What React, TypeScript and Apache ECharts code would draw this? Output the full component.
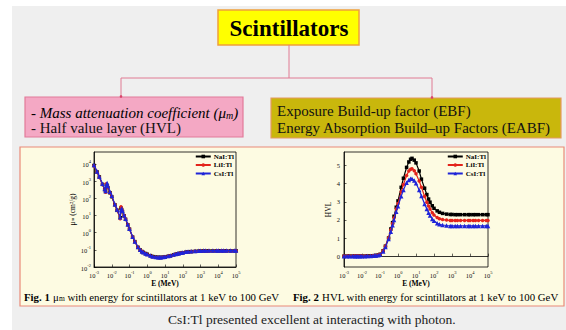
import React, { useEffect, useRef } from 'react';
import * as echarts from 'echarts';

const SERIF = 'Liberation Serif, Times New Roman, serif';

const SERIES_NAMES = ['NaI:Tl', 'LiI:Tl', 'CsI:Tl'];
const SERIES_COLORS = ['#000000', '#e3241b', '#1f24d8'];
const SERIES_SYMBOLS = ['rect', 'circle', 'triangle'];

// Fig. 1 : mass attenuation coefficient (cm2/g) vs photon energy (MeV)
const MU_ENERGY = [0.001, 0.0015, 0.002, 0.003, 0.004, 0.0045, 0.005, 0.0055, 0.006, 0.008, 0.01, 0.015, 0.02, 0.03, 0.0332, 0.036, 0.04, 0.05, 0.06, 0.08, 0.1, 0.15, 0.2, 0.3, 0.4, 0.5, 0.6, 0.8, 1, 1.5, 2, 3, 4, 5, 6, 8, 10, 15, 20, 30, 40, 50, 60, 80, 100, 150, 200, 300, 500, 800, 1000, 1500, 2000, 3000, 5000, 8000, 10000, 15000, 20000, 30000, 50000, 80000, 100000];
const MU_NAI = [8200, 3400, 1750, 650, 330, 250, 620, 500, 420, 210, 125, 42, 20, 7.5, 27, 22, 17, 9.5, 6, 2.9, 1.6, 0.55, 0.3, 0.14, 0.098, 0.08, 0.071, 0.061, 0.055, 0.046, 0.041, 0.038, 0.0365, 0.036, 0.0362, 0.0372, 0.0385, 0.042, 0.045, 0.051, 0.055, 0.058, 0.061, 0.065, 0.068, 0.073, 0.076, 0.079, 0.082, 0.084, 0.085, 0.086, 0.086, 0.087, 0.087, 0.088, 0.088, 0.088, 0.088, 0.088, 0.088, 0.088, 0.088];
const MU_LII = [7900, 3300, 1700, 640, 320, 230, 700, 560, 450, 215, 128, 43, 21, 6.5, 32, 25, 18, 10, 6.3, 3.0, 1.65, 0.56, 0.3, 0.14, 0.097, 0.079, 0.07, 0.06, 0.054, 0.045, 0.04, 0.037, 0.036, 0.0357, 0.036, 0.037, 0.0383, 0.0418, 0.0448, 0.0505, 0.0545, 0.0575, 0.0605, 0.0645, 0.0675, 0.0725, 0.0755, 0.0785, 0.0815, 0.0835, 0.0845, 0.0855, 0.0858, 0.0862, 0.0866, 0.0868, 0.087, 0.087, 0.087, 0.087, 0.087, 0.087, 0.087];
const MU_CSI = [8600, 3600, 1850, 700, 350, 270, 560, 780, 520, 240, 140, 45, 22, 8, 20, 26, 19, 10.5, 6.5, 3.1, 1.7, 0.58, 0.31, 0.145, 0.1, 0.081, 0.072, 0.062, 0.055, 0.046, 0.0415, 0.0385, 0.0372, 0.0368, 0.037, 0.038, 0.0395, 0.0432, 0.0465, 0.0528, 0.057, 0.0602, 0.0632, 0.0675, 0.0708, 0.0762, 0.0795, 0.0828, 0.086, 0.0882, 0.0892, 0.0902, 0.0906, 0.091, 0.0914, 0.0916, 0.0918, 0.0918, 0.0918, 0.0918, 0.0918, 0.0918, 0.0918];

// Fig. 2 : half value layer vs photon energy (MeV)
const HVL_ENERGY = [0.001, 0.0015, 0.002, 0.003, 0.004, 0.005, 0.006, 0.008, 0.01, 0.015, 0.02, 0.03, 0.04, 0.05, 0.06, 0.08, 0.1, 0.15, 0.2, 0.3, 0.4, 0.5, 0.6, 0.8, 1, 1.5, 2, 3, 4, 5, 6, 8, 10, 15, 20, 30, 40, 50, 60, 80, 100, 150, 200, 300, 500, 800, 1000, 1500, 2000, 3000, 5000, 8000, 10000, 15000, 20000, 30000, 50000, 80000, 100000];
const HVL_NAI = [0, 0, 0, 0, 0, 0, 0, 0, 0, 0, 0.01, 0.01, 0.02, 0.03, 0.04, 0.06, 0.1, 0.3, 0.55, 1.0, 1.5, 1.85, 2.2, 2.7, 3.05, 3.8, 4.3, 4.9, 5.2, 5.35, 5.4, 5.3, 5.15, 4.7, 4.25, 3.75, 3.4, 3.15, 2.98, 2.78, 2.64, 2.5, 2.42, 2.36, 2.32, 2.3, 2.3, 2.29, 2.29, 2.29, 2.29, 2.29, 2.29, 2.29, 2.29, 2.29, 2.29, 2.29, 2.29];
const HVL_LII = [0, 0, 0, 0, 0, 0, 0, 0, 0, 0, 0.01, 0.01, 0.02, 0.03, 0.04, 0.06, 0.1, 0.3, 0.55, 1.0, 1.45, 1.8, 2.1, 2.6, 2.9, 3.55, 3.95, 4.45, 4.7, 4.8, 4.82, 4.72, 4.55, 4.15, 3.8, 3.3, 2.98, 2.77, 2.6, 2.4, 2.27, 2.13, 2.06, 2.02, 1.99, 1.97, 1.97, 1.97, 1.97, 1.97, 1.97, 1.97, 1.97, 1.97, 1.97, 1.97, 1.97, 1.97, 1.97];
const HVL_CSI = [0, 0, 0, 0, 0, 0, 0, 0, 0, 0, 0.01, 0.01, 0.02, 0.03, 0.04, 0.05, 0.08, 0.25, 0.5, 0.95, 1.35, 1.7, 2.0, 2.45, 2.75, 3.3, 3.65, 4.05, 4.2, 4.27, 4.27, 4.18, 4.02, 3.65, 3.32, 2.88, 2.6, 2.4, 2.25, 2.05, 1.95, 1.82, 1.76, 1.72, 1.69, 1.67, 1.67, 1.67, 1.67, 1.67, 1.67, 1.67, 1.67, 1.67, 1.67, 1.67, 1.67, 1.67, 1.67];

const MU_SERIES = [MU_NAI, MU_LII, MU_CSI];
const HVL_SERIES = [HVL_NAI, HVL_LII, HVL_CSI];

const HVL_TICKS = [0, 1, 2, 3, 4, 5];

const powLabel = (v: number) => {
  const e = Math.log10(v);
  const r = Math.round(e);
  if (Math.abs(e - r) > 1e-6) return '';
  return `{b|10}{s|${r}}`;
};

const powRich = {
  b: { fontSize: 6.5, fontFamily: SERIF, color: '#111', lineHeight: 9, verticalAlign: 'bottom' },
  s: { fontSize: 4.5, fontFamily: SERIF, color: '#111', lineHeight: 5, verticalAlign: 'top' },
};

const makeSeries = (energy: number[], values: number[][], xAxisIndex: number, yAxisIndex: number) =>
  values.map((vals, i) => ({
    name: SERIES_NAMES[i],
    type: 'line',
    xAxisIndex,
    yAxisIndex,
    data: energy.map((e, k) => [e, vals[k]]),
    symbol: SERIES_SYMBOLS[i],
    symbolSize: i === 2 ? 4.5 : 3.5,
    showSymbol: true,
    lineStyle: { color: SERIES_COLORS[i], width: 1.2 },
    itemStyle: { color: SERIES_COLORS[i] },
    clip: true,
    z: 3 + i,
  }));

const xAxisBase = (gridIndex: number) => ({
  type: 'log',
  logBase: 10,
  gridIndex,
  min: 0.001,
  max: 100000,
  name: 'E (MeV)',
  nameLocation: 'middle',
  nameGap: 12,
  nameTextStyle: { fontFamily: SERIF, fontSize: 7.5, fontWeight: 'bold', color: '#000' },
  axisLine: { show: true, lineStyle: { color: '#000', width: 0.8 } },
  axisTick: { show: true, inside: true, length: 2.5, lineStyle: { color: '#000', width: 0.6 } },
  axisLabel: { formatter: powLabel, rich: powRich, margin: 3 },
  splitLine: { show: false },
});

const txt = (x: number, y: number, text: string, size: number, opts: any = {}) => ({
  type: 'text',
  z: 10,
  style: {
    x, y, text,
    textAlign: opts.align || 'left',
    textVerticalAlign: 'middle',
    fontSize: size,
    fontFamily: SERIF,
    fontWeight: opts.weight || 'normal',
    fill: opts.color || '#111',
  },
});

export default function App() {
  const ref = useRef<HTMLDivElement>(null);

  useEffect(() => {
    document.body.style.margin = '0';
    const chart = echarts.init(ref.current!, undefined, { renderer: 'svg' });

    const capSize = 10.8;

    const graphic: any[] = [
      { type: 'rect', z: -20, shape: { x: 12, y: 6, width: 554, height: 324 }, style: { fill: '#efefef' } },
      // title
      { type: 'rect', z: -10, shape: { x: 218, y: 10, width: 141, height: 35 }, style: { fill: '#ffff00', stroke: '#f0a03a', lineWidth: 1.5 } },
      txt(289, 28, 'Scintillators', 23, { align: 'center', weight: 'bold', color: '#000' }),
      // connectors
      { type: 'line', z: -10, shape: { x1: 289, y1: 45, x2: 289, y2: 78 }, style: { stroke: '#e07b93', lineWidth: 1 } },
      { type: 'line', z: -10, shape: { x1: 121, y1: 78, x2: 432, y2: 78 }, style: { stroke: '#e07b93', lineWidth: 1 } },
      { type: 'line', z: -10, shape: { x1: 121, y1: 78, x2: 121, y2: 97 }, style: { stroke: '#e07b93', lineWidth: 1 } },
      { type: 'line', z: -10, shape: { x1: 432, y1: 78, x2: 432, y2: 98 }, style: { stroke: '#e07b93', lineWidth: 1 } },
      { type: 'circle', z: -9, shape: { cx: 121, cy: 96.5, r: 1.3 }, style: { fill: '#d9436a' } },
      { type: 'circle', z: -9, shape: { cx: 432, cy: 97.5, r: 1.3 }, style: { fill: '#d9436a' } },
      // left box
      { type: 'rect', z: -10, shape: { x: 25, y: 97, width: 218, height: 40 }, style: { fill: '#f4a8c4', stroke: '#e27b99', lineWidth: 1.2 } },
      {
        type: 'text', z: 10,
        style: {
          x: 31, y: 111, textAlign: 'left', textVerticalAlign: 'middle',
          text: '{n|- }{i|Mass attenuation coefficient (μ}{is|m}{i|)}',
          rich: {
            n: { fontSize: 15, fontFamily: SERIF, color: '#111', lineHeight: 18, verticalAlign: 'bottom' },
            i: { fontSize: 15, fontFamily: SERIF, fontStyle: 'italic', color: '#111', lineHeight: 18, verticalAlign: 'bottom' },
            is: { fontSize: 10, fontFamily: SERIF, fontStyle: 'italic', color: '#111', lineHeight: 10, verticalAlign: 'bottom' },
          },
        },
      },
      txt(31, 128, '- Half value layer (HVL)', 15),
      // right box
      { type: 'rect', z: -10, shape: { x: 271, y: 98, width: 290, height: 40 }, style: { fill: '#c9b70c', stroke: '#e49a61', lineWidth: 1.2 } },
      txt(277, 111, 'Exposure Build-up factor (EBF)', 15),
      txt(277, 128, 'Energy Absorption Build–up Factors (EABF)', 15),
      // figure container
      { type: 'rect', z: -10, shape: { x: 20, y: 147, width: 544, height: 159 }, style: { fill: '#fdfbe2', stroke: '#e98a78', lineWidth: 1.2 } },
      {
        type: 'text', z: 10,
        style: {
          x: 24, y: 295, textAlign: 'left', textVerticalAlign: 'middle',
          text: '{b|Fig. 1} {n|μ}{s|m}{n| with energy for scintillators at 1 keV to 100 GeV}',
          rich: {
            b: { fontSize: capSize, fontFamily: SERIF, fontWeight: 'bold', color: '#111', lineHeight: 14, verticalAlign: 'bottom' },
            n: { fontSize: capSize, fontFamily: SERIF, color: '#111', lineHeight: 14, verticalAlign: 'bottom' },
            s: { fontSize: 7.5, fontFamily: SERIF, color: '#111', lineHeight: 8, verticalAlign: 'bottom' },
          },
        },
      },
      {
        type: 'text', z: 10,
        style: {
          x: 293, y: 295, textAlign: 'left', textVerticalAlign: 'middle',
          text: '{b|Fig. 2} {n|HVL with energy for scintillators at 1 keV to 100 GeV}',
          rich: {
            b: { fontSize: capSize, fontFamily: SERIF, fontWeight: 'bold', color: '#111', lineHeight: 14, verticalAlign: 'bottom' },
            n: { fontSize: capSize, fontFamily: SERIF, color: '#111', lineHeight: 14, verticalAlign: 'bottom' },
          },
        },
      },
      txt(168, 319, 'CsI:Tl presented excellent at interacting with photon.', 13.5, { color: '#222' }),
    ];

    const legendBase = {
      orient: 'vertical',
      top: 153,
      itemWidth: 15,
      itemHeight: 4.5,
      itemGap: 1.5,
      padding: 0,
      align: 'left',
      textStyle: { fontFamily: SERIF, fontSize: 7, fontWeight: 'bold', color: '#000', padding: [0, 0, 0, -2] },
      data: SERIES_NAMES,
    };

    chart.setOption({
      animation: false,
      backgroundColor: '#ffffff',
      textStyle: { fontFamily: SERIF },
      graphic,
      grid: [
        { left: 94, top: 152, width: 142, height: 115, show: true, borderColor: '#000', borderWidth: 0.8, backgroundColor: 'transparent', outerBoundsMode: 'none' },
        { left: 344, top: 152, width: 144, height: 115, show: true, borderColor: '#000', borderWidth: 0.8, backgroundColor: 'transparent', outerBoundsMode: 'none' },
      ],
      legend: [
        { ...legendBase, right: 566 - 234 },
        { ...legendBase, right: 566 - 486 },
      ],
      xAxis: [xAxisBase(0), xAxisBase(1)],
      yAxis: [
        {
          type: 'log',
          logBase: 10,
          gridIndex: 0,
          min: 0.01,
          max: 50000,
          name: '{a|μ}{s|m}{a| (cm²/g)}',
          nameLocation: 'middle',
          nameGap: 16,
          nameRotate: 90,
          nameTextStyle: {
            rich: {
              a: { fontFamily: SERIF, fontSize: 7.5, color: '#000' },
              s: { fontFamily: SERIF, fontSize: 5, color: '#000' },
            },
          },
          axisLine: { show: true, lineStyle: { color: '#000', width: 0.8 } },
          axisTick: { show: true, inside: true, length: 2.5, lineStyle: { color: '#000', width: 0.6 } },
          axisLabel: { formatter: powLabel, rich: powRich, margin: 3, showMaxLabel: false },
          splitLine: { show: false },
        },
        {
          type: 'value',
          gridIndex: 1,
          min: -0.6,
          max: 5.75,
          name: 'HVL',
          nameLocation: 'middle',
          nameGap: 11,
          nameRotate: 90,
          nameTextStyle: { fontFamily: SERIF, fontSize: 7.5, color: '#000' },
          axisLine: { show: true, lineStyle: { color: '#000', width: 0.8 } },
          axisTick: { show: true, inside: true, length: 2.5, lineStyle: { color: '#000', width: 0.6 }, customValues: HVL_TICKS },
          axisLabel: { fontFamily: SERIF, fontSize: 6.5, color: '#111', margin: 4, customValues: HVL_TICKS },
          splitLine: { show: false },
        },
      ],
      series: [
        ...makeSeries(MU_ENERGY, MU_SERIES, 0, 0),
        ...makeSeries(HVL_ENERGY, HVL_SERIES, 1, 1),
      ],
    });

    return () => chart.dispose();
  }, []);

  return <div ref={ref} style={{ width: 566, height: 330 }} />;
}
